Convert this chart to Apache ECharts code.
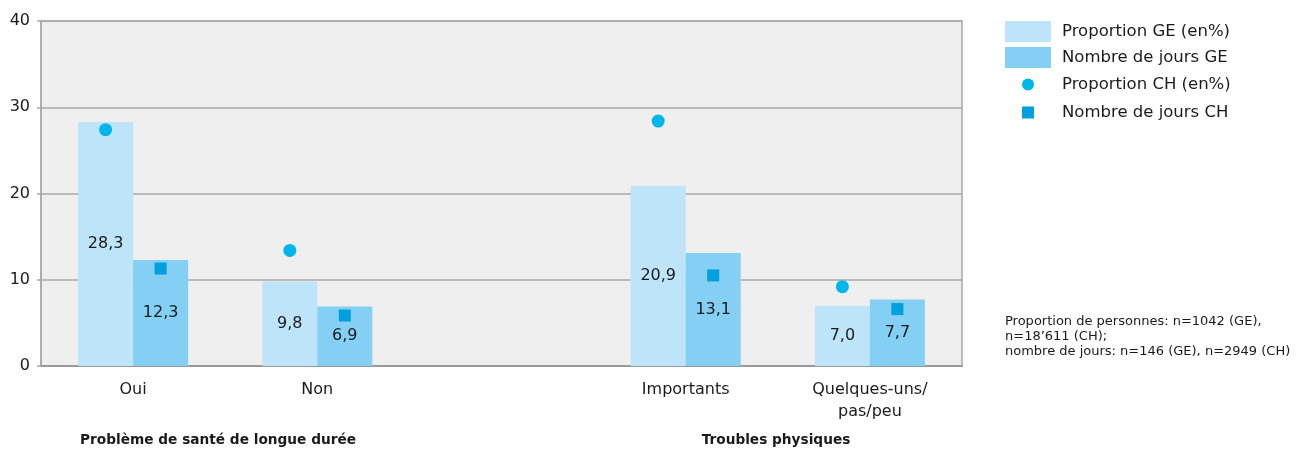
<!DOCTYPE html>
<html>
<head>
<meta charset="utf-8">
<script src="https://cdn.jsdelivr.net/npm/echarts@6/dist/echarts.min.js"></script>
<style>
html,body{margin:0;padding:0;background:#fff;}
#c{width:1297px;height:452px;}
</style>
</head>
<body>
<div id="c"></div>
<script>
var categories = ['Oui', 'Non', '', 'Importants', 'Quelques-uns/\npas/peu'];
var proportionGE = [28.3, 9.8, null, 20.9, 7.0];
var joursGE = [12.3, 6.9, null, 13.1, 7.7];
var proportionCH = [27.4, 13.4, null, 28.4, 9.2];
var joursCH = [11.3, 5.85, null, 10.5, 6.6];
var yTicks = [0, 10, 20, 30, 40];
var groupTitles = ['Problème de santé de longue durée', 'Troubles physiques'];
var noteText = 'Proportion de personnes: n=1042 (GE),\nn=18\u2019611 (CH);\nnombre de jours: n=146 (GE), n=2949 (CH)';

var FONT = '"DejaVu Sans", "Noto Sans", sans-serif';
var TXT = '#1a1a1a';
var chart = echarts.init(document.getElementById('c'), null, {renderer: 'canvas'});

function fmt(p) { return p.value == null ? '' : p.value.toFixed(1).replace('.', ','); }

var option = {
  animation: false,
  textStyle: {fontFamily: FONT},
  grid: {
    left: 41, top: 21, right: 335, bottom: 86,
    show: true, backgroundColor: '#efefef', borderColor: '#a8a8a8', borderWidth: 1.5
  },
  legend: [{
    left: 1000, top: 16, orient: 'vertical',
    itemWidth: 46, itemHeight: 21, itemGap: 5,
    textStyle: {fontFamily: FONT, fontSize: 16.5, color: TXT, padding: [0, 0, 0, 6]},
    data: [{name: 'Proportion GE (en%)', icon: 'rect'}, {name: 'Nombre de jours GE', icon: 'rect'}]
  }, {
    left: 1017, top: 71, orient: 'vertical',
    itemWidth: 46, itemHeight: 12, itemGap: 11,
    textStyle: {fontFamily: FONT, fontSize: 16.5, color: TXT, padding: [0, 0, 0, 6]},
    data: [{name: 'Proportion CH (en%)', icon: 'circle'}, {name: 'Nombre de jours CH', icon: 'path://M0,0H10V10H0Z'}]
  }],
  xAxis: [{
    type: 'category', data: categories,
    axisLine: {lineStyle: {color: '#999', width: 2}},
    axisTick: {show: false},
    axisLabel: {fontFamily: FONT, fontSize: 16, color: TXT, margin: 13, lineHeight: 22, interval: 0}
  }, {
    type: 'category', data: categories, show: false
  }],
  yAxis: {
    type: 'value', min: yTicks[0], max: yTicks[yTicks.length - 1], interval: 10,
    axisLine: {show: true, lineStyle: {color: '#a8a8a8', width: 1.5}},
    axisTick: {show: true, length: 4, lineStyle: {color: '#a8a8a8', width: 1.5}},
    splitLine: {lineStyle: {color: '#a8a8a8', width: 1.5}},
    axisLabel: {fontFamily: FONT, fontSize: 16, color: TXT, margin: 11}
  },
  series: [{
    name: 'Proportion GE (en%)', type: 'bar', xAxisIndex: 0, data: proportionGE,
    barWidth: 55, barGap: '0%',
    itemStyle: {color: '#bde4f8'},
    label: {show: true, position: 'inside', formatter: fmt, fontFamily: FONT, fontSize: 16, color: TXT}
  }, {
    name: 'Nombre de jours GE', type: 'bar', xAxisIndex: 0, data: joursGE,
    barWidth: 55, barGap: '0%',
    itemStyle: {color: '#84cff4'},
    label: {show: true, position: 'inside', formatter: fmt, fontFamily: FONT, fontSize: 16, color: TXT}
  }, {
    name: 'Proportion CH (en%)', type: 'pictorialBar', xAxisIndex: 1, data: proportionCH,
    barWidth: 55, barGap: '0%',
    symbol: 'circle', symbolSize: [13, 13], symbolPosition: 'end', symbolOffset: [0, '-50%'],
    itemStyle: {color: '#00b5ec'}, z: 5
  }, {
    name: 'Nombre de jours CH', type: 'pictorialBar', xAxisIndex: 1, data: joursCH,
    barWidth: 55, barGap: '0%',
    symbol: 'rect', symbolSize: [12, 12], symbolPosition: 'end', symbolOffset: [0, '-50%'],
    itemStyle: {color: '#009fe0'}, z: 5
  }],
  graphic: [{
    type: 'text', x: 218, y: 433,
    style: {text: groupTitles[0], font: 'bold 13.7px ' + FONT, fill: TXT, textAlign: 'center'}
  }, {
    type: 'text', x: 776, y: 433,
    style: {text: groupTitles[1], font: 'bold 13.7px ' + FONT, fill: TXT, textAlign: 'center'}
  }, {
    type: 'text', left: 1005, top: 314,
    style: {text: noteText, font: '13px ' + FONT, fill: TXT, lineHeight: 15}
  }]
};
chart.setOption(option);
</script>
</body>
</html>
